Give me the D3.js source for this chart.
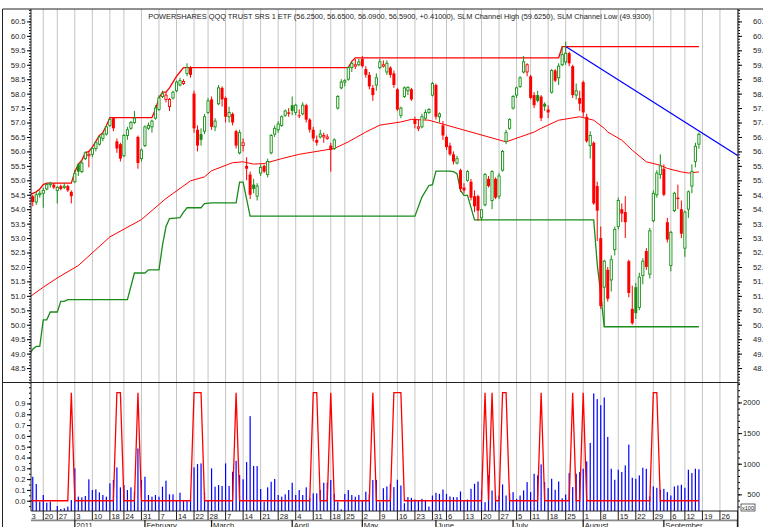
<!DOCTYPE html>
<html><head><meta charset="utf-8">
<script src="https://cdn.jsdelivr.net/npm/d3@7"></script>
<style>body{margin:0;background:#fff}svg{display:block}text{font-family:"Liberation Sans",Arial,sans-serif}</style>
</head><body><svg id="c" width="763" height="527"></svg>
<script>
const title = "POWERSHARES QQQ TRUST SRS 1 ETF (56.2500, 56.6500, 56.0900, 56.5900, +0.41000), SLM Channel High (59.6250), SLM Channel Low (49.9300)";
const holidays = ["2010-12-24","2011-01-17","2011-02-21","2011-04-22","2011-05-30","2011-07-04","2011-09-05"];
const calendarStart = "2010-12-13", calendarEnd = "2011-10-07";
const firstBar = "2010-12-15";
const monthNames = ["2011","February","March","April","May","June","July","August","September","October","November","December"];

const open = [54.45,54.25,54.50,54.55,54.70,54.85,54.85,54.65,54.80,54.75,54.80,54.60,
 54.95,55.55,55.30,55.75,55.85,55.90,56.10,56.25,56.45,56.60,56.90,57.15,56.35,56.25,55.85,56.55,56.80,57.00,56.50,55.75,
 56.20,56.80,56.85,57.15,57.45,57.90,57.80,57.55,57.85,58.10,58.30,58.35,58.70,58.90,58.00,56.75,56.60,56.70,57.35,
 57.80,56.85,57.65,58.20,57.85,57.20,57.30,56.70,55.95,56.20,55.50,55.20,54.85,54.45,55.25,55.50,55.20,55.95,56.60,56.75,56.90,57.25,57.35,
 57.60,57.35,57.25,57.30,57.60,57.10,56.75,56.40,56.50,56.50,56.45,56.20,56.10,57.50,58.20,58.40,58.50,58.90,58.95,59.00,
 59.20,58.85,58.65,58.20,58.30,58.90,58.95,58.75,58.90,58.70,58.15,57.25,57.90,58.10,58.15,57.10,56.80,56.85,57.15,57.35,57.95,
 58.30,57.20,56.90,56.50,56.20,55.90,55.60,55.35,54.75,55.00,54.95,54.45,54.45,53.70,54.15,55.05,54.30,55.05,54.45,55.35,56.35,56.80,
 57.50,57.95,58.25,58.75,58.75,58.60,57.95,57.95,57.90,57.65,57.45,58.05,58.80,58.55,59.00,59.10,59.40,58.95,57.95,57.85,
 58.40,57.20,56.20,56.30,54.80,53.00,51.30,51.90,51.55,52.60,53.40,54.00,53.90,52.20,50.55,51.30,50.60,51.70,52.55,51.75,53.60,54.50,55.20,
 55.40,53.55,52.05,53.95,54.40,54.00,52.65,54.00,54.80,55.65,56.25];
const high = [54.50,54.60,54.65,54.75,54.90,54.95,54.90,54.80,54.85,54.90,54.85,54.65,
 55.35,55.60,55.70,56.00,56.00,56.15,56.35,56.55,56.65,56.90,57.17,57.17,56.45,56.30,56.60,56.85,57.05,57.40,56.55,56.10,
 56.90,57.00,57.10,57.60,57.95,58.10,58.05,57.85,58.10,58.45,58.55,58.50,59.05,58.95,58.10,56.90,56.80,57.30,57.85,
 57.90,57.15,58.30,58.25,57.90,57.55,57.35,56.75,56.75,56.45,55.80,55.30,55.05,54.90,55.55,55.55,55.75,56.60,56.90,57.05,57.25,57.45,57.50,
 57.90,57.65,57.45,57.70,57.65,57.15,56.85,56.55,56.75,56.65,56.60,56.30,56.45,57.95,58.50,58.50,58.95,59.10,59.20,59.20,
 59.30,58.95,58.75,58.30,58.70,59.20,59.15,59.15,58.95,58.80,58.20,57.55,58.25,58.25,58.20,57.20,57.10,57.30,57.45,57.50,58.40,
 58.35,57.35,57.05,56.55,56.30,56.00,55.85,55.40,54.90,55.35,55.05,54.65,54.50,54.00,55.25,55.15,55.35,55.10,55.25,56.05,56.75,57.15,
 57.95,58.25,58.60,59.30,59.05,58.65,58.05,58.10,57.95,57.70,57.60,58.85,58.85,59.05,59.63,59.80,59.45,59.00,58.35,58.10,
 58.45,57.30,56.70,56.35,54.95,53.40,52.25,52.00,52.40,53.40,54.40,54.20,54.45,52.25,51.35,51.45,51.80,52.30,52.65,53.35,54.65,55.35,55.90,
 55.55,53.70,53.25,54.60,54.85,54.30,53.95,54.65,55.55,56.30,56.65];
const low = [54.10,54.15,54.40,54.05,54.65,54.75,54.70,54.20,54.65,54.70,54.60,54.20,
 54.90,55.15,55.25,55.70,55.45,55.80,56.00,56.20,56.35,56.55,56.85,56.70,55.95,55.65,55.80,56.40,56.75,56.95,55.40,55.65,
 56.15,56.75,56.65,57.10,57.40,57.85,57.70,57.40,57.80,58.05,58.25,58.30,58.60,58.55,56.65,56.00,56.20,56.60,57.30,
 56.75,56.70,57.60,57.55,57.00,57.00,56.90,56.10,55.90,56.00,55.00,54.35,54.55,54.30,55.15,55.25,55.10,55.90,56.50,56.65,56.85,57.20,57.20,
 57.25,57.25,57.15,57.25,57.00,56.65,56.35,56.20,56.45,56.30,56.40,55.30,56.05,57.45,58.15,58.25,58.45,58.75,58.85,58.95,
 58.90,58.55,58.15,57.75,58.10,58.85,58.90,58.65,58.55,58.20,57.40,57.15,57.85,57.95,57.75,56.80,56.70,56.80,57.10,57.30,57.90,
 57.10,57.00,56.40,56.05,55.85,55.55,55.55,54.60,54.55,54.95,54.30,53.90,53.60,53.60,54.10,54.75,54.00,54.35,54.35,55.30,56.25,56.75,
 57.45,57.85,58.20,58.70,58.60,57.80,57.50,57.70,57.05,57.40,57.15,58.00,58.40,58.30,58.95,59.00,58.95,57.85,57.80,57.40,
 57.20,56.30,55.75,54.15,52.90,50.55,49.93,50.80,51.15,52.40,53.30,53.55,53.00,50.95,50.00,50.20,50.50,51.40,51.90,51.60,53.55,54.40,55.05,
 54.45,52.85,51.85,53.90,54.00,53.00,52.35,53.70,54.55,55.45,56.09];
const close = [54.25,54.50,54.55,54.65,54.85,54.90,54.75,54.75,54.70,54.80,54.65,54.45,
 55.23,55.30,55.60,55.95,55.90,56.10,56.30,56.50,56.60,56.85,57.10,56.80,56.10,55.75,56.55,56.75,57.00,57.15,55.60,56.05,
 56.85,56.90,57.05,57.50,57.85,58.00,57.95,57.80,58.05,58.40,58.45,58.42,58.90,58.65,56.80,56.20,56.40,57.20,57.75,
 56.85,57.05,58.20,57.80,57.20,57.35,57.00,56.20,56.65,56.30,55.40,54.50,54.70,54.80,55.45,55.30,55.65,56.55,56.80,56.95,57.20,57.40,57.30,
 57.40,57.60,57.25,57.60,57.10,56.75,56.45,56.30,56.60,56.55,56.50,56.05,56.40,57.90,58.40,58.45,58.90,59.05,59.00,59.10,
 58.95,58.65,58.25,57.95,58.55,59.10,59.00,59.05,58.65,58.30,57.45,57.50,58.20,58.22,57.80,56.95,56.85,57.20,57.35,57.45,58.35,
 57.20,57.30,56.55,56.15,55.90,55.65,55.75,54.70,54.65,55.30,54.40,54.10,53.95,53.98,55.20,54.80,55.30,54.40,55.15,56.00,56.65,57.10,
 57.90,58.20,58.55,59.10,59.00,57.85,57.60,57.75,57.15,57.55,57.35,58.80,58.45,58.95,59.35,59.40,59.05,57.95,58.10,57.65,
 57.35,56.35,56.55,54.20,53.95,50.65,52.20,50.90,52.25,53.30,54.30,53.85,53.55,51.10,50.05,50.40,51.65,52.20,52.00,53.25,54.55,55.25,55.50,
 54.50,52.95,53.20,54.55,54.35,53.15,53.90,54.60,55.30,56.18,56.59];
// volume, in hundreds of shares (x100)
const volume = [787,668,380,489,364,380,228,310,261,272,299,407,
 924,462,451,473,745,570,581,532,489,462,679,734,940,614,652,570,614,543,1250,734,
 788,489,462,489,462,625,723,500,500,407,527,396,407,407,940,994,1005,527,396,
 924,625,652,636,1005,636,869,1048,815,745,1027,1777,962,962,587,380,614,706,750,489,462,500,570,
 690,489,570,489,614,435,516,516,570,690,690,734,505,380,255,505,570,489,462,489,
 396,543,500,734,734,372,600,629,672,618,738,645,355,454,443,415,399,426,410,301,481,
 525,508,579,508,465,454,454,547,399,415,590,672,710,563,372,809,563,481,481,661,481,519,
 536,426,481,563,700,536,836,809,989,700,601,754,574,710,437,497,847,618,836,864,
 918,1038,1339,2148,2055,1956,2082,1437,918,738,902,864,973,1312,771,754,809,935,918,465,629,607,574,
 590,536,481,629,645,656,607,902,847,918,910];
// days on which the lower-panel signal equals 1 (0 otherwise)
const signalOn = ["2010-12-31","2011-01-20","2011-01-21","2011-01-28","2011-02-22","2011-02-23","2011-02-24","2011-03-10",
 "2011-04-11","2011-04-12","2011-04-18","2011-05-05","2011-05-13","2011-05-16","2011-05-17","2011-06-21","2011-06-23",
 "2011-06-28","2011-06-29","2011-07-14","2011-07-27","2011-08-01","2011-08-29","2011-08-30"];
const signalStart = "2010-12-14", signalEnd = "2011-09-16";
const channelHigh = [["2010-12-14",54.50],["2010-12-15",54.55],["2010-12-16",54.60],["2010-12-17",54.70],["2010-12-20",54.85],["2010-12-21",54.90],
 ["2010-12-31",54.90],["2011-01-03",55.30],["2011-01-04",55.55],["2011-01-05",55.70],["2011-01-06",55.95],["2011-01-07",56.00],["2011-01-10",56.15],
 ["2011-01-11",56.35],["2011-01-12",56.55],["2011-01-13",56.65],["2011-01-14",56.90],["2011-01-18",57.17],["2011-02-03",57.17],["2011-02-04",57.45],
 ["2011-02-07",57.85],["2011-02-08",58.05],["2011-02-09",58.05],["2011-02-10",58.20],["2011-02-11",58.40],["2011-02-14",58.60],["2011-02-15",58.75],
 ["2011-02-16",58.90],["2011-04-26",58.90],["2011-04-27",59.12],["2011-04-28",59.24],["2011-07-21",59.24],["2011-07-22",59.625],["2011-09-16",59.625]];
const channelLow = [["2010-12-14",48.95],["2010-12-15",49.15],["2010-12-16",49.25],["2010-12-17",49.25],["2010-12-20",50.17],["2010-12-21",50.17],
 ["2010-12-22",50.44],["2010-12-27",50.44],["2010-12-28",50.81],["2010-12-29",50.81],["2010-12-30",50.87],["2011-01-25",50.87],["2011-01-27",51.79],
 ["2011-02-01",51.79],["2011-02-02",51.90],["2011-02-07",51.90],["2011-02-08",52.75],["2011-02-09",53.40],["2011-02-10",53.67],["2011-02-15",53.71],
 ["2011-02-16",53.90],["2011-02-17",54.05],["2011-02-24",54.05],["2011-02-25",54.19],["2011-03-01",54.22],["2011-03-10",54.22],["2011-03-11",54.94],
 ["2011-03-14",54.94],["2011-03-16",53.76],["2011-05-23",53.76],["2011-05-25",54.42],["2011-05-27",54.82],["2011-05-31",54.85],["2011-06-01",55.32],
 ["2011-06-07",55.32],["2011-06-08",55.30],["2011-06-09",55.23],["2011-06-10",54.65],["2011-06-13",54.48],["2011-06-14",54.48],["2011-06-16",53.63],
 ["2011-08-04",53.63],["2011-08-05",52.10],["2011-08-08",51.05],["2011-08-09",49.93],["2011-09-16",49.93]];
const movingAvg = [["2010-12-14",50.95],["2010-12-20",51.30],["2010-12-27",51.62],["2011-01-04",52.05],["2011-01-18",53.04],["2011-01-31",53.64],
 ["2011-02-09",54.37],["2011-02-18",54.98],["2011-02-25",55.12],["2011-03-01",55.33],["2011-03-09",55.61],["2011-03-14",55.64],["2011-03-17",55.56],
 ["2011-03-22",55.58],["2011-03-29",55.75],["2011-04-05",55.90],["2011-04-19",56.10],["2011-04-26",56.33],["2011-05-03",56.67],["2011-05-09",56.91],
 ["2011-05-17",57.02],["2011-05-20",57.11],["2011-05-27",57.08],["2011-06-06",56.91],["2011-06-15",56.67],["2011-06-29",56.33],["2011-07-06",56.50],
 ["2011-07-12",56.67],["2011-07-14",56.80],["2011-07-21",57.08],["2011-07-29",57.20],["2011-08-04",57.08],["2011-08-09",56.80],["2011-08-10",56.67],
 ["2011-08-16",56.39],["2011-08-19",56.04],["2011-08-25",55.64],["2011-08-31",55.52],["2011-09-02",55.41],["2011-09-09",55.29],["2011-09-13",55.25],["2011-09-16",55.29]];
const trendLine = [["2011-07-25",59.63],["2011-09-16",56.71]];
const priceLabels = [48.5,49,49.5,50,50.5,51,51.5,52,52.5,53,53.5,54,54.5,55,55.5,56,56.5,57,57.5,58,58.5,59,59.5,60,60.5];
const signalLabels = [0,0.1,0.2,0.3,0.4,0.5,0.6,0.7,0.8,0.9];
const volumeLabels = [500,1000,1500,2000];

// ---------- layout ----------
const L = 31, R = 738, T = 9, PB = 382.5, LB = 511;
const svg = d3.select("#c");
const fmt = d3.utcFormat("%Y-%m-%d");
const hs = new Set(holidays);
const days = [];
for (let d = new Date(calendarStart + "T00:00:00Z"); d <= new Date(calendarEnd + "T00:00:00Z"); d = new Date(d.getTime() + 864e5)) {
  const wd = d.getUTCDay();
  if (wd === 0 || wd === 6 || hs.has(fmt(d))) continue;
  days.push(d);
}
const ord = new Map(days.map((d, i) => [fmt(d), i]));
const x = d3.scaleLinear().domain([ord.get(firstBar) - 0.5, ord.get("2011-10-03") + 0.15]).range([L, R]);
const y = d3.scaleLinear().domain([48.0, 60.93]).range([PB, T]);
const ys = d3.scaleLinear().domain([-0.095, 1.094]).range([LB, PB]);
const yv = d3.scaleLinear().domain([228, 2326]).range([LB, PB]);

const defs = svg.append("defs");
defs.append("clipPath").attr("id", "cp").append("rect").attr("x", L).attr("y", T).attr("width", R - L).attr("height", PB - T);
defs.append("clipPath").attr("id", "cl").append("rect").attr("x", L).attr("y", PB).attr("width", R - L).attr("height", LB - PB);
defs.append("clipPath").attr("id", "ca").append("rect").attr("x", L).attr("y", LB).attr("width", R - L).attr("height", 20);

const weekStarts = days.map((d, i) => i).filter(i => i === 0 || days[i].getUTCDay() < days[i - 1].getUTCDay() || (days[i] - days[i - 1]) > 3 * 864e5);
const monthStarts = days.map((d, i) => i).filter(i => i > 0 && days[i].getUTCMonth() !== days[i - 1].getUTCMonth());

// gridlines
const grid = svg.append("g").attr("clip-path", "url(#cp)");
const grid2 = svg.append("g").attr("clip-path", "url(#cl)");
[grid, grid2].forEach(g => g.selectAll("line").data(weekStarts).join("line")
  .attr("x1", d => x(d)).attr("x2", d => x(d)).attr("y1", T).attr("y2", LB)
  .attr("stroke", "#c4c4c4").attr("stroke-width", 1));

// ---------- price panel ----------
const pp = svg.append("g").attr("clip-path", "url(#cp)");
const line = d3.line().x(d => x(ord.get(d[0]))).y(d => y(d[1]));
pp.append("path").attr("d", line(movingAvg)).attr("fill", "none").attr("stroke", "#ff0000").attr("stroke-width", 1);
pp.append("path").attr("d", line(channelLow)).attr("fill", "none").attr("stroke", "#1a8c1a").attr("stroke-width", 1.3);
pp.append("path").attr("d", line(channelHigh)).attr("fill", "none").attr("stroke", "#ff0000").attr("stroke-width", 1.3);
// trend line extended to the right edge
{
  const [a, b] = trendLine;
  const t0 = ord.get(a[0]), t1 = ord.get(b[0]);
  const slope = (b[1] - a[1]) / (t1 - t0);
  const tEnd = x.domain()[1];
  pp.append("line").attr("x1", x(t0)).attr("y1", y(a[1])).attr("x2", x(tEnd)).attr("y2", y(a[1] + slope * (tEnd - t0)))
    .attr("stroke", "#0000ff").attr("stroke-width", 1.2);
}
const f0 = ord.get(firstBar);
const bars = open.map((o, k) => ({ t: f0 + k, o, h: high[k], l: low[k], c: close[k], v: volume[k], p: k ? close[k - 1] : o }));
const cg = pp.append("g");
bars.forEach(b => {
  const col = b.c >= b.p ? "#159015" : "#ff0000";
  const cx = x(b.t);
  cg.append("line").attr("x1", cx).attr("x2", cx).attr("y1", y(b.h)).attr("y2", y(b.l)).attr("stroke", col).attr("stroke-width", 1);
  const top = y(Math.max(b.o, b.c)), bot = y(Math.min(b.o, b.c));
  if (b.c > b.o) {
    cg.append("rect").attr("x", cx - 1.1).attr("y", top).attr("width", 2.2).attr("height", Math.max(bot - top, 0.8))
      .attr("fill", "#fff").attr("stroke", col).attr("stroke-width", 0.9);
  } else {
    cg.append("rect").attr("x", cx - 1.5).attr("y", top).attr("width", 3).attr("height", Math.max(bot - top, 1))
      .attr("fill", col);
  }
});

// ---------- lower panel ----------
const lp = svg.append("g").attr("clip-path", "url(#cl)");
lp.selectAll("rect.v").data(bars).join("rect").attr("class", "v")
  .attr("x", d => x(d.t) - 0.6).attr("width", 1.2).attr("y", d => yv(d.v)).attr("height", d => LB - yv(d.v))
  .attr("fill", "#0000ff");
const onSet = new Set(signalOn);
const sig = days.slice(ord.get(signalStart), ord.get(signalEnd) + 1).map(d => [ord.get(fmt(d)), onSet.has(fmt(d)) ? 1 : 0]);
lp.append("path").attr("d", d3.line().x(d => x(d[0])).y(d => ys(d[1]))(sig)).attr("fill", "none").attr("stroke", "#ff0000").attr("stroke-width", 1.3);

// ---------- axes ----------
function styleAxis(g, fs) {
  g.select(".domain").remove();
  g.selectAll("line").attr("stroke", "#000");
  g.selectAll("text").attr("font-size", fs).attr("fill", "#222").attr("font-family", "'Liberation Sans',Arial,sans-serif");
}
const minorPrice = d3.range(480, 610).map(v => v / 10);
svg.append("g").attr("transform", `translate(${L},0)`).call(d3.axisLeft(y).tickValues(minorPrice).tickSize(2).tickFormat("")).call(g => styleAxis(g, 0));
svg.append("g").attr("transform", `translate(${L},0)`).call(d3.axisLeft(y).tickValues(priceLabels).tickSize(4).tickPadding(1.5).tickFormat(d3.format(".1f"))).call(g => styleAxis(g, "7.6px"));
svg.append("g").attr("transform", `translate(${R},0)`).call(d3.axisRight(y).tickValues(minorPrice).tickSize(2).tickFormat("")).call(g => styleAxis(g, 0));
svg.append("g").attr("transform", `translate(${R},0)`).call(d3.axisRight(y).tickValues(priceLabels).tickSize(4).tickPadding(11).tickFormat(d3.format(".1f"))).call(g => styleAxis(g, "7.6px"));

const minorSig = d3.range(-1, 22).map(v => v * 0.05).filter(v => v > -0.09 && v < 1.09);
svg.append("g").attr("transform", `translate(${L},0)`).call(d3.axisLeft(ys).tickValues(minorSig).tickSize(2).tickFormat("")).call(g => styleAxis(g, 0));
svg.append("g").attr("transform", `translate(${L},0)`).call(d3.axisLeft(ys).tickValues(signalLabels).tickSize(4).tickPadding(1.5).tickFormat(d3.format(".1f"))).call(g => styleAxis(g, "7.6px"));
const minorVol = d3.range(3, 24).map(v => v * 100);
svg.append("g").attr("transform", `translate(${R},0)`).call(d3.axisRight(yv).tickValues(minorVol).tickSize(2).tickFormat("")).call(g => styleAxis(g, 0));
svg.append("g").attr("transform", `translate(${R},0)`).call(d3.axisRight(yv).tickValues(volumeLabels).tickSize(4).tickPadding(2).tickFormat(d3.format("d"))).call(g => {
  styleAxis(g, "7.6px");
  g.selectAll("text").attr("text-anchor", "end").attr("x", 22);
});
// x100 box
svg.append("rect").attr("x", 741).attr("y", 504).attr("width", 14).attr("height", 7).attr("fill", "#fff").attr("stroke", "#000").attr("stroke-width", 0.6);
svg.append("text").attr("x", 748).attr("y", 509.8).attr("text-anchor", "middle").attr("font-size", "5.6px").attr("fill", "#222").text("x100");

// frame
const fr = svg.append("g").attr("stroke", "#222").attr("stroke-width", 1);
fr.append("line").attr("x1", 2.5).attr("x2", 763).attr("y1", T).attr("y2", T);
fr.append("line").attr("x1", 2.5).attr("x2", 2.5).attr("y1", T).attr("y2", 527);
fr.append("line").attr("x1", L).attr("x2", L).attr("y1", T).attr("y2", LB);
fr.append("line").attr("x1", R).attr("x2", R).attr("y1", T).attr("y2", 527);
fr.append("line").attr("x1", 2.5).attr("x2", R).attr("y1", PB).attr("y2", PB);
fr.append("line").attr("x1", L).attr("x2", R).attr("y1", LB).attr("y2", LB);

// date axis
const da = svg.append("g").attr("clip-path", "url(#ca)");
da.append("line").attr("x1", L).attr("x2", R).attr("y1", 520.3).attr("y2", 520.3).attr("stroke", "#888").attr("stroke-width", 1.8);
da.selectAll("line.w").data(weekStarts).join("line").attr("class", "w")
  .attr("x1", d => x(d)).attr("x2", d => x(d)).attr("y1", LB).attr("y2", 520).attr("stroke", "#222").attr("stroke-width", 1);
da.selectAll("text.w").data(weekStarts).join("text").attr("class", "w")
  .attr("x", d => x(d) + 1.5).attr("y", 518.6).attr("font-size", "7.6px").attr("fill", "#222")
  .text(d => days[d].getUTCDate());
da.selectAll("line.m").data(monthStarts).join("line").attr("class", "m")
  .attr("x1", d => x(d)).attr("x2", d => x(d)).attr("y1", 520).attr("y2", 528).attr("stroke", "#222").attr("stroke-width", 1.3);
da.selectAll("text.m").data(monthStarts).join("text").attr("class", "m")
  .attr("x", d => x(d) + 1.5).attr("y", 528.3).attr("font-size", "7.6px").attr("fill", "#222")
  .text(d => monthNames[days[d].getUTCMonth()]);

// title
svg.append("text").attr("x", 148.3).attr("y", 19).attr("font-size", "7.4px").attr("fill", "#222").text(title);
</script></body></html>
